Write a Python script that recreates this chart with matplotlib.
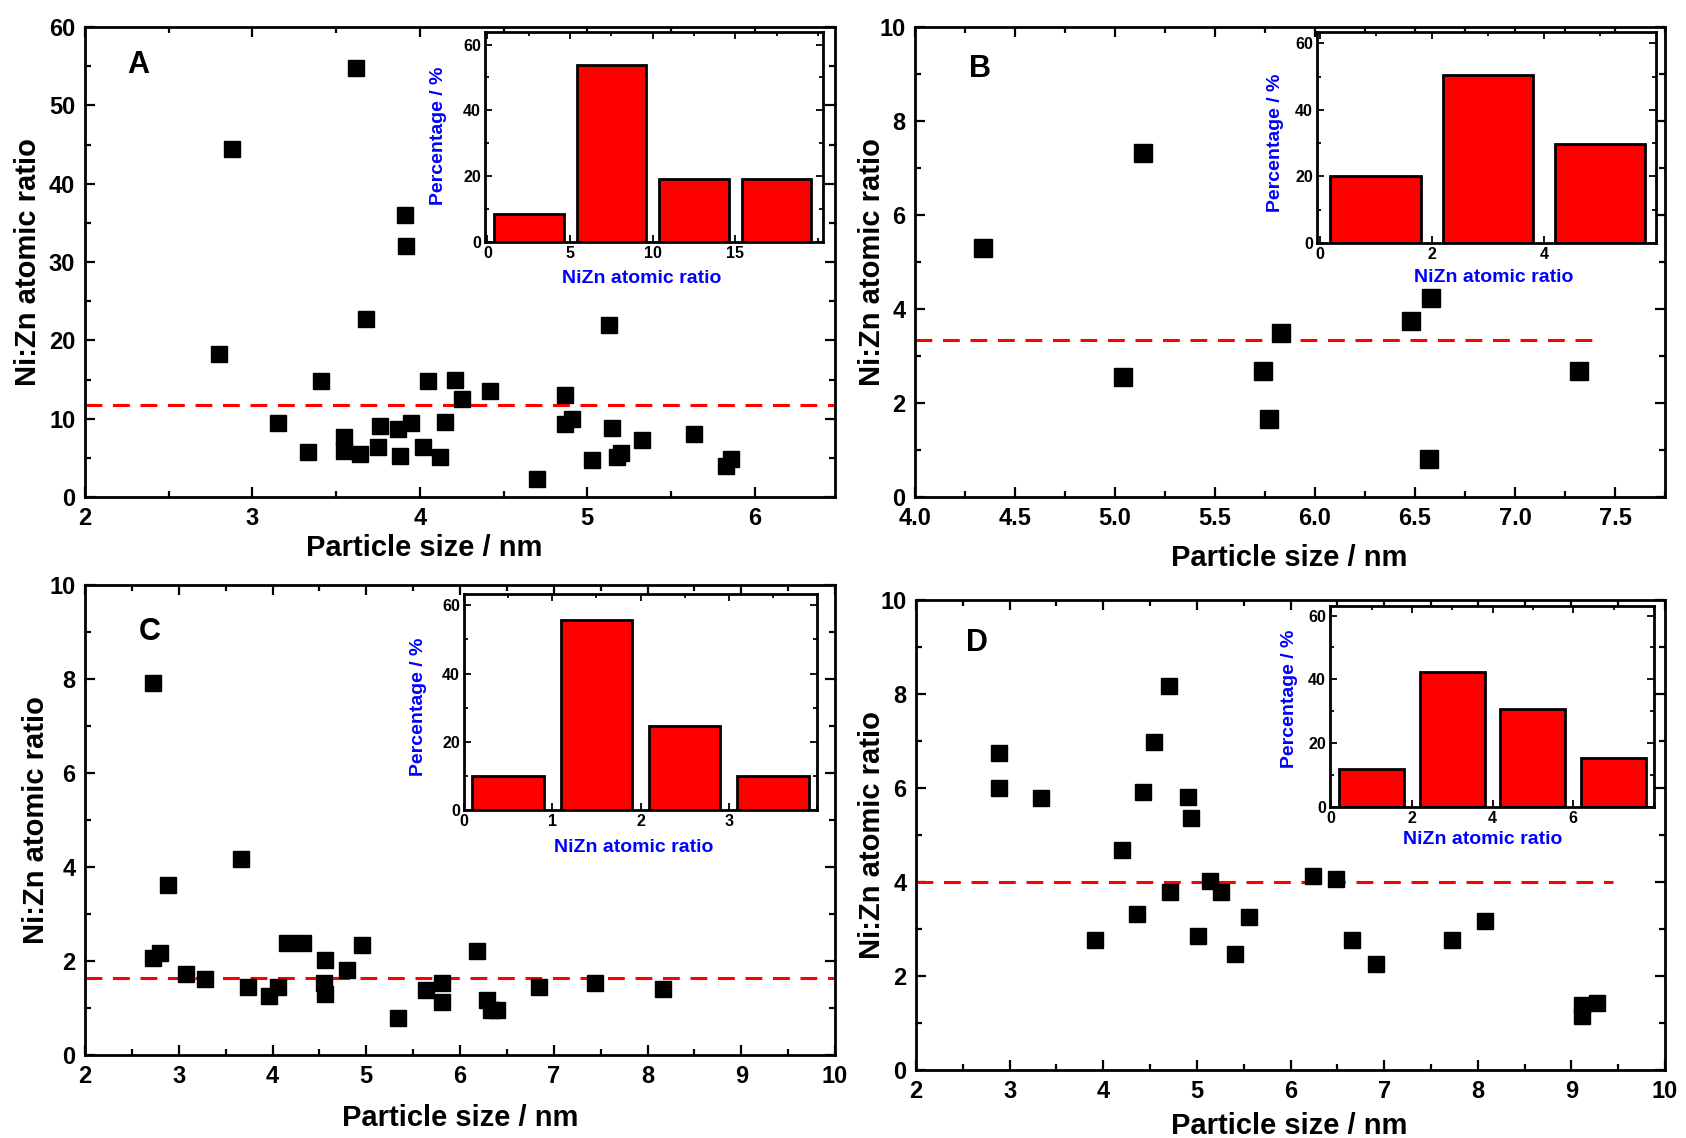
import matplotlib
matplotlib.use("Agg")
import matplotlib.pyplot as plt
from matplotlib.ticker import MultipleLocator, FixedLocator

plt.rcParams['font.family'] = ['Liberation Sans', 'DejaVu Sans']
plt.rcParams['font.weight'] = 'bold'

# ---------------- data ----------------
a_size = [3.62, 2.88, 3.91, 3.92, 3.68, 5.13, 2.80, 3.41, 4.05, 4.21, 4.25, 4.42, 4.87,
          3.15, 3.33, 3.55, 3.55, 3.64, 3.75, 3.76, 3.87, 3.95, 3.88, 4.02, 4.12, 4.15,
          4.70, 4.87, 4.91, 5.15, 5.03, 5.18, 5.20, 5.33, 5.64, 5.83, 5.86]
a_ratio = [54.8, 44.4, 36.0, 32.1, 22.7, 22.0, 18.2, 14.8, 14.8, 15.0, 12.5, 13.5, 13.0,
           9.5, 5.8, 7.6, 5.9, 5.5, 6.4, 9.1, 8.7, 9.4, 5.2, 6.4, 5.1, 9.6,
           2.3, 9.3, 9.9, 8.8, 4.7, 5.1, 5.6, 7.3, 8.0, 3.9, 4.9]
a_mean = 11.7
a_hist_centers = [2.5, 7.5, 12.5, 17.5]
a_hist_pct = [8.6, 53.8, 19.0, 19.0]
a_inset_ticks = [0, 5, 10, 15]

b_size = [4.34, 5.14, 5.04, 5.74, 5.77, 5.83, 6.48, 6.58, 6.57, 7.32]
b_ratio = [5.30, 7.31, 2.55, 2.69, 1.66, 3.48, 3.75, 4.23, 0.80, 2.69]
b_mean = 3.34
b_hist_centers = [1, 3, 5]
b_hist_pct = [20.2, 50.4, 29.8]
b_inset_ticks = [0, 2, 4]

c_size = [2.72, 2.72, 2.80, 2.89, 3.08, 3.28, 3.66, 3.74, 3.96, 4.06, 4.15, 4.32, 4.56,
          4.55, 4.56, 4.79, 4.95, 5.34, 5.64, 5.81, 5.81, 6.18, 6.29, 6.33, 6.39, 6.84,
          7.44, 8.16]
c_ratio = [7.92, 2.07, 2.16, 3.61, 1.72, 1.61, 4.17, 1.45, 1.26, 1.45, 2.38, 2.38, 2.03,
           1.53, 1.30, 1.80, 2.34, 0.78, 1.39, 1.53, 1.13, 2.22, 1.18, 0.95, 0.95, 1.45,
           1.53, 1.40]
c_mean = 1.63
c_hist_centers = [0.5, 1.5, 2.5, 3.5]
c_hist_pct = [10.1, 55.6, 24.5, 10.1]
c_inset_ticks = [0, 1, 2, 3]

d_size = [2.89, 2.89, 3.33, 3.91, 4.20, 4.36, 4.42, 4.54, 4.70, 4.71, 4.91, 4.94, 5.01,
          5.14, 5.26, 5.41, 5.56, 6.24, 6.49, 6.66, 6.91, 7.72, 8.08, 9.11, 9.11, 9.27]
d_ratio = [6.75, 6.00, 5.78, 2.77, 4.69, 3.32, 5.91, 6.97, 8.18, 3.78, 5.80, 5.36, 2.86,
           4.02, 3.78, 2.46, 3.25, 4.12, 4.06, 2.77, 2.25, 2.77, 3.17, 1.38, 1.14, 1.42]
d_mean = 4.0
d_hist_centers = [1, 3, 5, 7]
d_hist_pct = [11.8, 42.3, 30.6, 15.3]
d_inset_ticks = [0, 2, 4, 6]

letters = ['A', 'B', 'C', 'D']
x_label = 'Particle size / nm'
y_label = 'Ni:Zn atomic ratio'
inset_xlabel = 'NiZn atomic ratio'
inset_ylabel = 'Percentage / %'

W, H = 1686, 1138
fig = plt.figure(figsize=(W / 100, H / 100), dpi=100)


def rect(l, t, r, b):
    return [l / W, 1 - b / H, (r - l) / W, (b - t) / H]


panels = [
    dict(size=a_size, ratio=a_ratio, mean=a_mean, mean_span=(0, 1),
         main=rect(85, 27, 835, 497), xlim=(2, 6.48), ylim=(0, 60),
         xmaj=1, xmin=0.5, ymaj=10, ymin=5, xfmt='%d', ms=11.5,
         letter_pos=(0.071, 0.919), ylab_x=-0.057, xlab_pos=(0.452, -0.078),
         inset=rect(485, 32, 823, 242), ixlim=(-0.15, 20.3), iylim=(0, 63.8),
         iticks=a_inset_ticks, ixmin=2.5, hc=a_hist_centers, hp=a_hist_pct, bw=4.2,
         iylab=(-0.112, 0.505), ixlab=(0.464, -0.135)),
    dict(size=b_size, ratio=b_ratio, mean=b_mean, mean_span=(0, 0.915),
         main=rect(915, 27, 1665, 497), xlim=(4, 7.75), ylim=(0, 10),
         xmaj=0.5, xmin=0.25, ymaj=2, ymin=1, xfmt='%.1f', ms=13,
         letter_pos=(0.087, 0.91), ylab_x=-0.039, xlab_pos=(0.499, -0.1),
         inset=rect(1317, 32, 1656, 243), ixlim=(-0.05, 6.0), iylim=(0, 63.4),
         iticks=b_inset_ticks, ixmin=1, hc=b_hist_centers, hp=b_hist_pct, bw=1.62,
         iylab=(-0.097, 0.476), ixlab=(0.52, -0.125)),
    dict(size=c_size, ratio=c_ratio, mean=c_mean, mean_span=(0, 1),
         main=rect(85, 585, 835, 1055), xlim=(2, 10), ylim=(0, 10),
         xmaj=1, xmin=0.5, ymaj=2, ymin=1, xfmt='%d', ms=11.5,
         letter_pos=(0.087, 0.90), ylab_x=-0.047, xlab_pos=(0.5, -0.104),
         inset=rect(464, 594, 817, 810), ixlim=(0, 4.0), iylim=(0, 63.3),
         iticks=c_inset_ticks, ixmin=0.5, hc=c_hist_centers, hp=c_hist_pct, bw=0.81,
         iylab=(-0.105, 0.477), ixlab=(0.48, -0.135)),
    dict(size=d_size, ratio=d_ratio, mean=d_mean, mean_span=(0, 0.93),
         main=rect(916, 600, 1665, 1070), xlim=(2, 10), ylim=(0, 10),
         xmaj=1, xmin=0.5, ymaj=2, ymin=1, xfmt='%d', ms=12,
         letter_pos=(0.081, 0.908), ylab_x=-0.04, xlab_pos=(0.498, -0.09),
         inset=rect(1330, 606, 1654, 807), ixlim=(-0.03, 8.0), iylim=(0, 63),
         iticks=d_inset_ticks, ixmin=1, hc=d_hist_centers, hp=d_hist_pct, bw=1.61,
         iylab=(-0.10, 0.54), ixlab=(0.47, -0.12)),
]

for letter, p in zip(letters, panels):
    ax = fig.add_axes(p['main'])
    ax.plot(p['size'], p['ratio'], 's', color='black', ms=p['ms'], mec='black',
            linestyle='none', zorder=3)
    ax.axhline(p['mean'], xmin=p['mean_span'][0], xmax=p['mean_span'][1],
               color='#FF0000', lw=2.2, dashes=(5.5, 3.5), zorder=2)
    ax.set_xlim(*p['xlim'])
    ax.set_ylim(*p['ylim'])
    ax.xaxis.set_major_locator(MultipleLocator(p['xmaj']))
    ax.xaxis.set_minor_locator(MultipleLocator(p['xmin']))
    ax.yaxis.set_major_locator(MultipleLocator(p['ymaj']))
    ax.yaxis.set_minor_locator(MultipleLocator(p['ymin']))
    ax.xaxis.set_major_formatter(matplotlib.ticker.FormatStrFormatter(p['xfmt']))
    ax.tick_params(which='both', direction='in', top=True, right=True, width=1.6)
    ax.tick_params(which='major', length=7, labelsize=17, pad=7)
    ax.tick_params(which='minor', length=4)
    for s in ax.spines.values():
        s.set_linewidth(2.0)
    for lab in ax.get_xticklabels() + ax.get_yticklabels():
        lab.set_fontweight('bold')
    ax.set_ylabel(y_label, fontsize=21, fontweight='bold')
    ax.yaxis.set_label_coords(p['ylab_x'], 0.5)
    ax.set_xlabel(x_label, fontsize=21, fontweight='bold', va='top')
    ax.xaxis.set_label_coords(*p['xlab_pos'])
    ax.text(p['letter_pos'][0], p['letter_pos'][1], letter, transform=ax.transAxes,
            fontsize=22, fontweight='bold', ha='center', va='center')

    ins = fig.add_axes(p['inset'])
    ins.bar(p['hc'], p['hp'], width=p['bw'], color='#FF0000', edgecolor='black',
            linewidth=2.0, zorder=2)
    ins.set_xlim(*p['ixlim'])
    ins.set_ylim(*p['iylim'])
    ins.xaxis.set_major_locator(FixedLocator(p['iticks']))
    ins.xaxis.set_minor_locator(MultipleLocator(p['ixmin']))
    ins.yaxis.set_major_locator(MultipleLocator(20))
    ins.yaxis.set_minor_locator(MultipleLocator(10))
    ins.tick_params(which='both', direction='in', top=True, right=True, width=1.3)
    ins.tick_params(which='major', length=5, labelsize=11.5, pad=3)
    ins.tick_params(which='minor', length=3)
    for s in ins.spines.values():
        s.set_linewidth(2.0)
    for lab in ins.get_xticklabels() + ins.get_yticklabels():
        lab.set_fontweight('bold')
    ins.set_ylabel(inset_ylabel, fontsize=14, fontweight='bold', color='#0000FF')
    ins.yaxis.set_label_coords(*p['iylab'])
    ins.set_xlabel(inset_xlabel, fontsize=14, fontweight='bold', color='#0000FF',
                   va='top')
    ins.xaxis.set_label_coords(*p['ixlab'])

fig.savefig('out.png', dpi=100)
